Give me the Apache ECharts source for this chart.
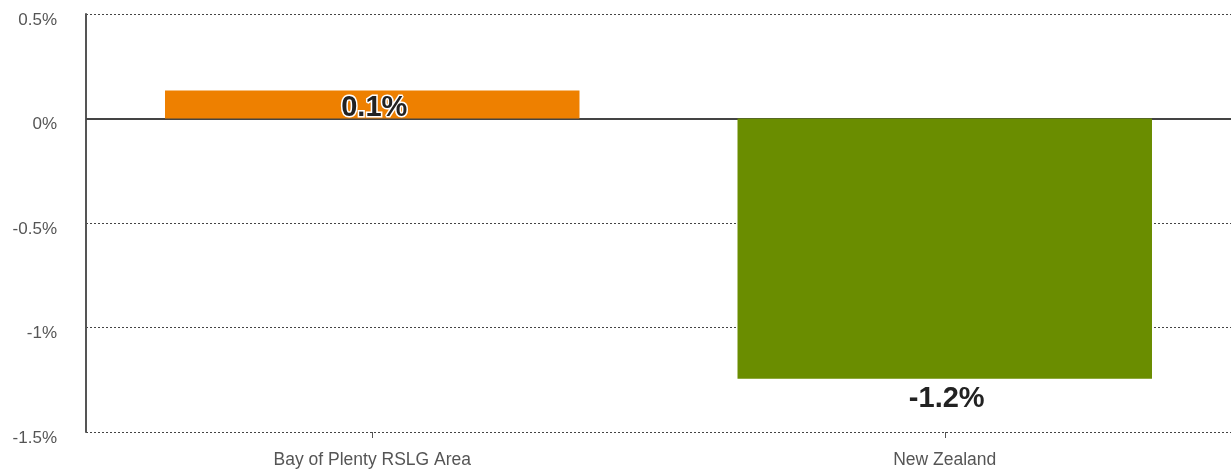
<!DOCTYPE html>
<html>
<head>
<meta charset="utf-8">
<script src="https://cdn.jsdelivr.net/npm/echarts@6/dist/echarts.min.js"></script>
<style>html,body{margin:0;padding:0;background:#fff}#c{width:1231px;height:473px}</style>
</head>
<body>
<div id="c"></div>
<script>
const categories = ['Bay of Plenty RSLG Area', 'New Zealand'];
const values = [0.134, -1.245];
const labels = ['0.1%', '-1.2%'];
const yTicks = [-1.5, -1, -0.5, 0, 0.5];

const barColors = ['#EE8000', '#6A8D00'];
const FONT = 'Liberation Sans, Arial, sans-serif';
const chart = echarts.init(document.getElementById('c'));
chart.setOption({
  animation: false,
  grid: { left: 86, right: 0, top: 14, bottom: 41, containLabel: false },
  xAxis: {
    type: 'category',
    data: categories,
    axisLine: { show: false, onZero: false },
    axisTick: { show: true, alignWithLabel: true, length: 6, lineStyle: { color: '#555', width: 1 } },
    axisLabel: { color: '#555', fontSize: 17.5, fontFamily: FONT, margin: 19 },
    splitLine: { show: false }
  },
  yAxis: {
    type: 'value',
    min: -1.5, max: 0.5, interval: 0.5,
    axisLine: { show: true, lineStyle: { color: '#555', width: 2 } },
    axisTick: { show: false },
    axisLabel: {
      color: '#555', fontSize: 17, fontFamily: FONT, margin: 29,
      verticalAlign: 'top', lineHeight: 12,
      formatter: v => (yTicks.indexOf(v) >= 0 ? (Math.round(v * 10) / 10) + '%' : '')
    },
    splitLine: { show: true, lineStyle: { color: '#444', type: [2, 2], width: 1 } }
  },
  series: [
    {
      type: 'bar',
      z: 2,
      barWidth: '72.4%',
      data: values.map((v, i) => ({
        value: v,
        itemStyle: { color: barColors[i] },
        label: v >= 0
          ? { position: 'inside', offset: [2, 4] }
          : { position: 'bottom', distance: 6, offset: [2, 0] }
      })),
      label: {
        show: true,
        formatter: p => labels[p.dataIndex],
        fontFamily: FONT,
        fontWeight: 'bold',
        fontSize: 29,
        color: '#222',
        textBorderColor: '#fff',
        textBorderWidth: 3
      },
      markLine: {
        silent: true,
        z: 1,
        symbol: 'none',
        label: { show: false },
        lineStyle: { color: '#444', type: 'solid', width: 2 },
        data: [{ yAxis: 0 }]
      }
    }
  ]
});
</script>
</body>
</html>
